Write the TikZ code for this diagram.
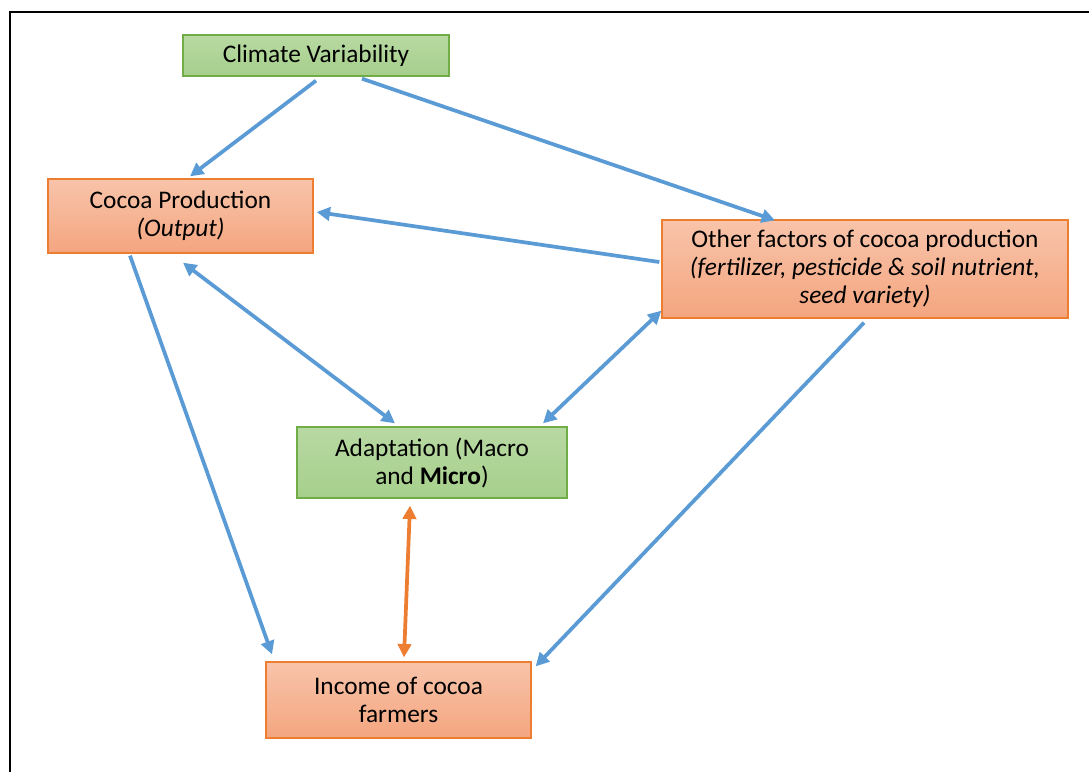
\documentclass[tikz,border=0pt]{standalone}
\usepackage{fontspec}
\setmainfont{Carlito}
\usetikzlibrary{arrows.meta}
\definecolor{arrowblue}{HTML}{5B9BD5}
\definecolor{arroworange}{HTML}{ED7D31}
\definecolor{greenline}{HTML}{70AD47}
\definecolor{greentop}{HTML}{B8D9A3}
\definecolor{greenbot}{HTML}{A6CF8B}
\definecolor{orangetop}{HTML}{F8C4AA}
\definecolor{orangebot}{HTML}{F4A57F}
\begin{document}
\begin{tikzpicture}[x=0.75pt,y=-0.75pt]
   \tikzstyle{greenbox} = [draw=greenline, line width=1pt, top color=greentop, bottom color=greenbot,
      align=center, font=\fontsize{19}{21}\selectfont, inner sep=0pt]
   \tikzstyle{orangebox} = [draw=arroworange, line width=1pt, top color=orangetop, bottom color=orangebot,
      align=center, font=\fontsize{19}{21}\selectfont, inner sep=0pt]
   \tikzstyle{line} = [draw=arrowblue, line width=2.8pt, -{Triangle[length=10pt,width=10pt]}]
   \tikzstyle{twoway} = [line, {Triangle[length=10pt,width=10pt]}-{Triangle[length=10pt,width=10pt]}]
   \useasboundingbox (0,0) rectangle (1089,772);
   % frame
   \draw [line width=2pt] (10,772) -- (10,12) -- (1089,12);

   \node [greenbox, minimum width=199.5pt, minimum height=30.75pt] (clim) at (316,55.5) {Climate Variability};
   \node [orangebox, minimum width=198.75pt, minimum height=55.5pt] (cocoa) at (180.5,216)
      {Cocoa Production\\\textit{(Output)}};
   \node [orangebox, minimum width=304.5pt, minimum height=73.5pt] (other) at (865,269)
      {Other factors of cocoa production\\\textit{(fertilizer, pesticide \& soil nutrient,}\\\textit{seed variety)}};
   \node [greenbox, minimum width=202.5pt, minimum height=53.25pt] (adapt) at (432,462.5)
      {Adaptation (Macro\\and \textbf{Micro})};
   \node [orangebox, minimum width=198.75pt, minimum height=57pt] (income) at (398.5,700)
      {Income of cocoa\\farmers};

   \path [line] ([shift={(0,4)}]clim.south) -- ([shift={(9.5,-2)}]cocoa.north);
   \path [line] ([shift={(46,2)}]clim.south) -- ([shift={(-90,1)}]other.north);
   \path [line] ([shift={(-2,-7)}]other.west) -- ([shift={(3,-4)}]cocoa.east);
   \path [twoway] ([shift={(2.5,9)}]cocoa.south) -- ([shift={(-37,-3)}]adapt.north);
   \path [twoway] ([shift={(111,-3)}]adapt.north) -- ([shift={(0,-8)}]other.south west);
   \path [line] ([shift={(-50.5,2)}]cocoa.south) -- ([shift={(-126.5,-7)}]income.north);
   \path [line] ([shift={(-1,4)}]other.south) -- ([shift={(4,5)}]income.north east);
   \path [twoway, draw=arroworange] ([shift={(-22,7)}]adapt.south) -- ([shift={(5.5,-4)}]income.north);
\end{tikzpicture}
\end{document}
